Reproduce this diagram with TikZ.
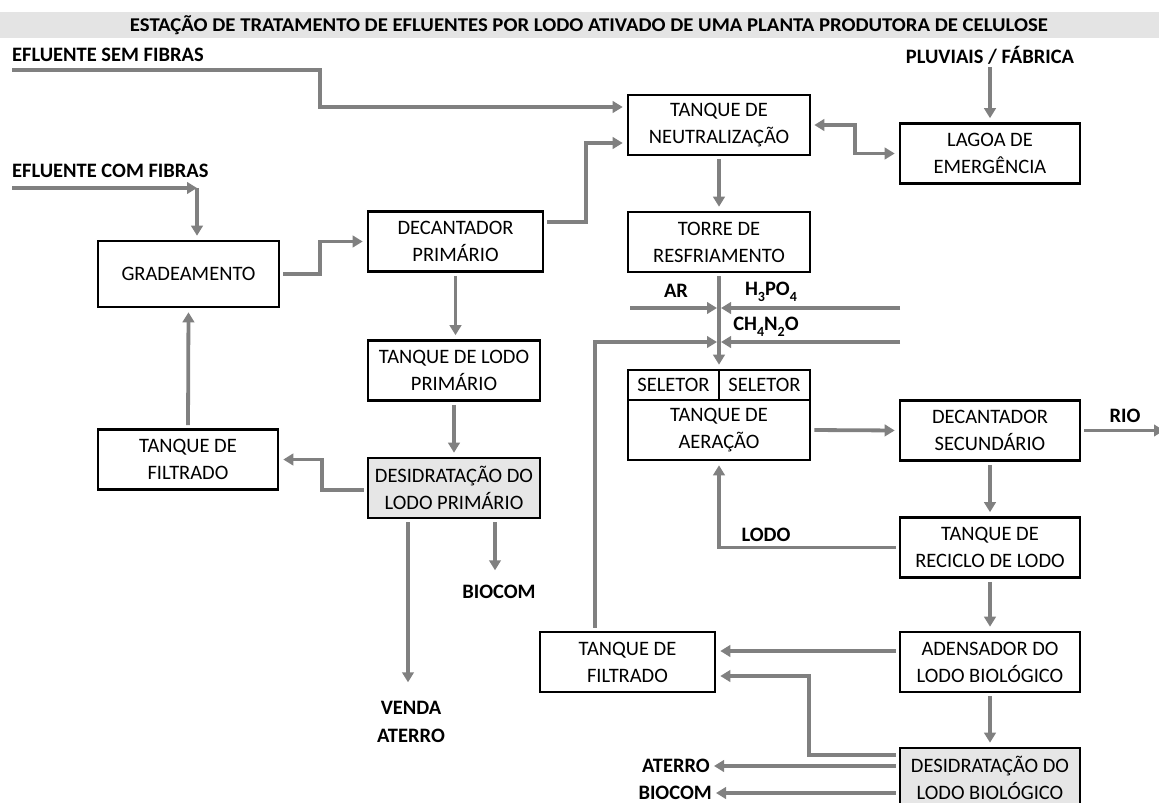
\documentclass[tikz,border=0pt]{standalone}
\usepackage{fontspec}
\setmainfont{Carlito}
\usetikzlibrary{arrows.meta}
\definecolor{flowgray}{HTML}{808080}
\definecolor{boxgray}{HTML}{E6E6E6}
\definecolor{titlegray}{HTML}{E4E4E4}
\newcommand{\sbx}[1]{\raisebox{-0.28em}{\fontsize{14}{14}\selectfont #1}}
\tikzset{
  box/.style={draw=black, line width=2.6pt, rectangle, align=center, minimum width=180pt, minimum height=60pt, inner sep=2pt, font=\fontsize{20.5}{27}\selectfont},
  flow/.style={draw=flowgray, line width=3.8pt, -{Triangle[length=10pt,width=11.5pt]}, shorten <=3pt, shorten >=4pt},
  biflow/.style={flow, {Triangle[length=10pt,width=11.5pt]}-{Triangle[length=10pt,width=11.5pt]}},
  lbl/.style={font=\bfseries\fontsize{20.5}{28}\selectfont, inner sep=0pt},
}
\begin{document}
\begin{tikzpicture}[x=1pt,y=-1pt]
    \useasboundingbox (0,0) rectangle (1159,803);
    % title band
    \fill[titlegray] (0,12) rectangle (1159,38);
    \node (title) at (589,25.5) {\resizebox{918pt}{\height}{\bfseries\fontsize{19.5}{20}\selectfont ESTAÇÃO DE TRATAMENTO DE EFLUENTES POR LODO ATIVADO DE UMA PLANTA PRODUTORA DE CELULOSE}};

    % boxes
    \node[box, minimum width=182pt] (neu) at (719,125) {TANQUE DE\\NEUTRALIZAÇÃO};
    \node[box] (lag) at (990,153.5) {LAGOA DE\\EMERGÊNCIA};
    \node[box, minimum width=182pt] (tor) at (719,242) {TORRE DE\\RESFRIAMENTO};
    \node[box, minimum width=181pt, minimum height=66pt] (gra) at (188.5,274) {GRADEAMENTO};
    \node[box, minimum width=175pt] (decp) at (455.5,241.5) {DECANTADOR\\PRIMÁRIO};
    \node[box, minimum width=172pt] (tlp) at (454,370.5) {TANQUE DE LODO\\PRIMÁRIO};
    \node[box, fill=boxgray, minimum width=172pt] (dlp) at (454,488) {DESIDRATAÇÃO DO\\LODO PRIMÁRIO};
    \node[box] (tfe) at (188,459.5) {TANQUE DE\\FILTRADO};
    \node[box, minimum width=91pt, minimum height=30pt] (sel1) at (673.5,385) {SELETOR};
    \node[box, minimum width=91pt, minimum height=30pt] (sel2) at (764.5,385) {SELETOR};
    \node[box, minimum width=182pt] (aer) at (719,430) {TANQUE DE\\AERAÇÃO};
    \node[box] (decs) at (990,430.5) {DECANTADOR\\SECUNDÁRIO};
    \node[box] (rec) at (990,547.5) {TANQUE DE\\RECICLO DE LODO};
    \node[box] (ade) at (990,662) {ADENSADOR DO\\LODO BIOLÓGICO};
    \node[box, minimum width=175pt] (tfd) at (627.5,662) {TANQUE DE\\FILTRADO};
    \node[box, fill=boxgray] (dlb) at (990,778) {DESIDRATAÇÃO DO\\LODO BIOLÓGICO};

    % labels
    \node[lbl, anchor=west] (esft) at (12,55) {EFLUENTE SEM FIBRAS};
    \node[lbl] (pluv) at (990,55) {PLUVIAIS / FÁBRICA};
    \node[lbl, anchor=west] (ecft) at (12,171) {EFLUENTE COM FIBRAS};
    \node[lbl] (ar) at (676,291) {AR};
    \node[lbl] (h3) at (771,292) {H\sbx{3}PO\sbx{4}};
    \node[lbl] (ch) at (766,327) {CH\sbx{4}N\sbx{2}O};
    \node[lbl] (rio) at (1125,416) {RIO};
    \node[lbl] (lodo) at (766,535) {LODO};
    \node[lbl, align=center] (venda) at (411,722) {VENDA\\ATERRO};
    \node[lbl] (bio1) at (499,592) {BIOCOM};
    \node[lbl, anchor=east] (ate2) at (710,766) {ATERRO};
    \node[lbl, anchor=east] (bio2) at (712,793) {BIOCOM};

    % free ends
    \coordinate (esf) at (9,70);
    \coordinate (ecf) at (9,188);
    \coordinate (ecfk) at (197,188);
    \coordinate (j1) at (719,308);
    \coordinate (j2) at (719,342);
    \coordinate (arin) at (627,308);
    \coordinate (hin) at (903,308);
    \coordinate (chin) at (903,342);
    \coordinate (rout) at (1168,430.5);

    % primary line
    \draw[flow] (esf) -- ++(311,0) |- ([yshift=18pt]neu.west);
    \draw[flow] (pluv.south) -- (lag.north);
    \draw[biflow] (neu.east) -- ++(44,0) |- (lag.west);
    \draw[flow, shorten >=0pt] (ecf) -- (ecfk);
    \draw[flow, shorten <=0pt] (ecfk) -- (ecfk |- gra.north);
    \draw[flow] (gra.east) -- ++(40,0) |- (decp.west);
    \draw[flow] ([yshift=19.5pt]decp.east) -- ++(42,0) |- ([yshift=-18pt]neu.west);
    \draw[flow] (neu.south) -- (tor.north);
    \draw[flow] (decp.south) -- (decp.south |- tlp.north);
    \draw[flow] (tlp.south) -- (dlp.north);
    \draw[flow] ([yshift=-2pt]dlp.west) -- ++(-45,0) |- (tfe.east);
    \draw[flow] (tfe.north) -- (gra.south);
    \draw[flow] ([xshift=-46pt]dlp.south) -- ++(0,167);
    \draw[flow] ([xshift=41pt]dlp.south) -- ++(0,55);

    % secondary line
    \draw[flow] (tor.south) -- (tor.south |- sel1.north);
    \draw[flow, shorten >=2pt] (arin) -- (j1);
    \draw[flow, shorten >=2pt] (hin) -- (j1);
    \draw[flow, shorten >=2pt] (chin) -- (j2);
    \draw[flow, shorten >=2pt] ([xshift=-32.5pt]tfd.north) |- (j2);
    \draw[flow] (aer.east) -- (decs.west);
    \draw[flow] (decs.east) -- (rout);
    \draw[flow] (decs.south) -- (rec.north);
    \draw[flow] (rec.west) -| (aer.south);
    \draw[flow] (rec.south) -- (ade.north);
    \draw[flow] ([yshift=11pt]ade.west) -- ([yshift=11pt]tfd.east);
    \draw[flow] (ade.south) -- (dlb.north);
    \draw[flow] ([yshift=23pt]dlb.west) -- ++(-90,0) |- ([yshift=-14pt]tfd.east);
    \draw[flow] ([yshift=12pt]dlb.west) -- (ate2.east);
    \draw[flow] ([yshift=-15pt]dlb.west) -- (bio2.east);
\end{tikzpicture}
\end{document}
